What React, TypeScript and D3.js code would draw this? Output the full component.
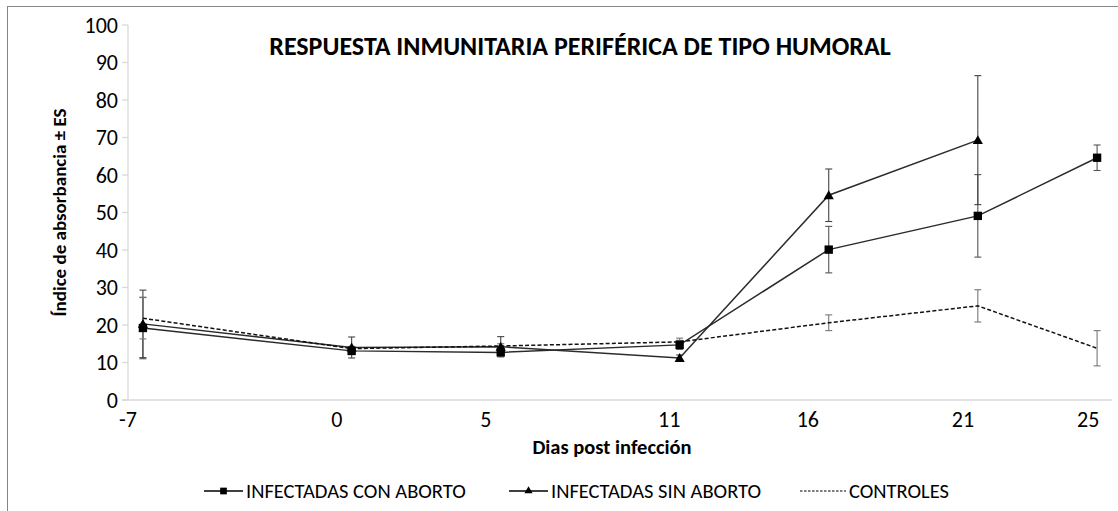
import * as d3 from "d3";

const days = [-7, 0, 5, 11, 16, 21, 25];
const tickLabels = ["-7", "0", "5", "11", "16", "21", "25"];
// where the day labels sit, in day units (they are not centred on the points)
const tickAt = [-7.5, -0.5, 4.5, 10.65, 15.3, 20.5, 24.7];
const yTicks = [0, 10, 20, 30, 40, 50, 60, 70, 80, 90, 100];

const conAborto = [19.2, 13.1, 12.7, 14.7, 40.1, 49.1, 64.6];
const conAbortoEs = [8.2, 1.0, 0.8, 1.2, 6.2, 11.0, 3.4];
const sinAborto = [20.3, 14.0, 14.2, 11.2, 54.6, 69.3, null];
const sinAbortoEs = [9.0, 2.8, 2.7, 0.8, 7.0, 17.2, null];
const controles = [21.8, 13.7, 14.4, 15.5, 20.6, 25.1, 13.8];
const controlesEs = [5.5, 0.6, 0.6, 1.0, 2.1, 4.3, 4.7];

const W = 1118;
const H = 511;
const FONT = "Carlito, 'Liberation Sans Narrow', 'Open Sans', sans-serif";

type Pt = { d: number; v: number; e: number };

function pts(vals: (number | null)[], errs: (number | null)[]): Pt[] {
  const out: Pt[] = [];
  vals.forEach((v, i) => {
    if (v != null) out.push({ d: days[i], v, e: errs[i] ?? 0 });
  });
  return out;
}

export default function App() {
  const x = d3.scaleLinear().domain([-7.5, 25.5]).range([128, 1112]);
  const y = d3.scaleLinear().domain([0, 100]).range([400, 25]);
  const line = d3
    .line<Pt>()
    .x((p) => x(p.d))
    .y((p) => y(p.v));

  const series = [
    { name: "INFECTADAS CON ABORTO", data: pts(conAborto, conAbortoEs), dash: null, marker: "square", errColor: "#555" },
    { name: "INFECTADAS SIN ABORTO", data: pts(sinAborto, sinAbortoEs), dash: null, marker: "triangle", errColor: "#444" },
    { name: "CONTROLES", data: pts(controles, controlesEs), dash: "4,2.2", marker: null, errColor: "#777" },
  ];

  const sq = d3.symbol(d3.symbolSquare, 70)();
  const tri = d3.symbol(d3.symbolTriangle, 45)();

  const legend = [
    { x0: 204, tx: 246, label: series[0].name, marker: sq, dash: null },
    { x0: 509, tx: 551, label: series[1].name, marker: tri, dash: null },
    { x0: 800, tx: 849, label: series[2].name, marker: null, dash: "2.5,1.5" },
  ];

  return (
    <div style={{ position: "absolute", left: 0, top: 0, width: W, height: H, background: "#fff" }}>
      <svg width={W} height={H} style={{ display: "block", fontFamily: FONT }}>
        <rect x={7.5} y={6.5} width={1125} height={520} fill="#fff" stroke="#868686" strokeWidth={1} />

        {/* title */}
        <text x={580} y={55} textAnchor="middle" fontSize={26} fontWeight="bold" fill="#000">
          RESPUESTA INMUNITARIA PERIFÉRICA DE TIPO HUMORAL
        </text>

        {/* y axis */}
        <line x1={128} x2={128} y1={y(100)} y2={y(0)} stroke="#d9d9d9" strokeWidth={1.3} />
        {yTicks.map((t) => (
          <g key={t}>
            <line x1={122} x2={128} y1={y(t)} y2={y(t)} stroke="#d9d9d9" strokeWidth={1.3} />
            <text x={118} y={y(t)} dy="0.35em" textAnchor="end" fontSize={22} fill="#000">
              {t}
            </text>
          </g>
        ))}
        <text
          transform={`translate(66, ${y(50)}) rotate(-90)`}
          textAnchor="middle"
          fontSize={19}
          fontWeight="bold"
          fill="#000"
        >
          Índice de absorbancia ± ES
        </text>

        {/* x axis */}
        <line x1={122} x2={x(25.5)} y1={y(0)} y2={y(0)} stroke="#d9d9d9" strokeWidth={1.3} />
        {tickLabels.map((t, i) => (
          <text key={t} x={x(tickAt[i])} y={427} textAnchor="middle" fontSize={22} fill="#000">
            {t}
          </text>
        ))}
        <text x={612} y={454} textAnchor="middle" fontSize={20.5} fontWeight="bold" fill="#000">
          Dias post infección
        </text>

        {/* error bars */}
        {series.map((s) =>
          s.data.map((p, i) => (
            <g key={s.name + i} stroke={s.errColor} strokeWidth={1.1}>
              <line x1={x(p.d)} x2={x(p.d)} y1={y(p.v - p.e)} y2={y(p.v + p.e)} />
              <line x1={x(p.d) - 3.5} x2={x(p.d) + 3.5} y1={y(p.v - p.e)} y2={y(p.v - p.e)} />
              <line x1={x(p.d) - 3.5} x2={x(p.d) + 3.5} y1={y(p.v + p.e)} y2={y(p.v + p.e)} />
            </g>
          ))
        )}

        {/* lines */}
        {series.map((s) => (
          <path
            key={s.name}
            d={line(s.data) ?? ""}
            fill="none"
            stroke={s.dash ? "#111" : "#2b2b2b"}
            strokeWidth={1.5}
            strokeDasharray={s.dash ?? undefined}
          />
        ))}

        {/* markers */}
        {series.map((s) =>
          s.marker
            ? s.data.map((p, i) => (
                <path
                  key={s.name + "m" + i}
                  d={s.marker === "square" ? sq : tri}
                  transform={`translate(${x(p.d)},${y(p.v) + (s.marker === "triangle" ? 1 : 0)})`}
                  fill="#000"
                />
              ))
            : null
        )}

        {/* legend */}
        {legend.map((l) => (
          <g key={l.label}>
            <line
              x1={l.x0}
              x2={l.tx - 3}
              y1={491}
              y2={491}
              stroke="#000"
              strokeWidth={l.dash ? 1.1 : 1.5}
              strokeDasharray={l.dash ?? undefined}
            />
            {l.marker ? (
              <path d={l.marker} transform={`translate(${(l.x0 + l.tx - 3) / 2},491) scale(0.8)`} fill="#000" />
            ) : null}
            <text x={l.tx} y={491} dy="0.35em" fontSize={20.5} fill="#000">
              {l.label}
            </text>
          </g>
        ))}
      </svg>
    </div>
  );
}
